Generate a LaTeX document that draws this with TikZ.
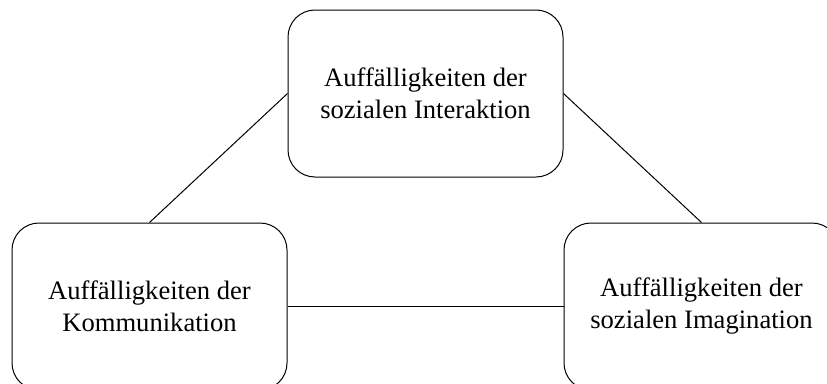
\documentclass[tikz,border=0pt]{standalone}
\usepackage{fontspec}
\setmainfont{Liberation Serif}
\usepackage{tikz}
\usetikzlibrary{positioning}

\begin{document}
\begin{tikzpicture}[%
x={(1pt,0pt)},
y={(0pt,-1pt)},
feld/.style={draw, line width=1pt, rounded corners=27pt, minimum width=275pt, minimum height=167pt, align=center, font=\fontsize{26.6}{32}\selectfont},
]

\useasboundingbox (0,0) rectangle (827,383);

%Felder
\node[feld] (A) at (425.5,93.5) {Auffälligkeiten der\\sozialen Interaktion};
\node[feld, below left=45pt and 0pt of A] (B) {Auffälligkeiten der\\Kommunikation};
\node[feld, below right=45pt and 0pt of A] (C) {Auffälligkeiten der\\sozialen Imagination};

%Kanten
\draw[line width=1pt] (A.west) -- (B.north);
\draw[line width=1pt] (A.east) -- (C.north);
\draw[line width=1pt] (B.east) -- (C.west);

\end{tikzpicture}
\end{document}
